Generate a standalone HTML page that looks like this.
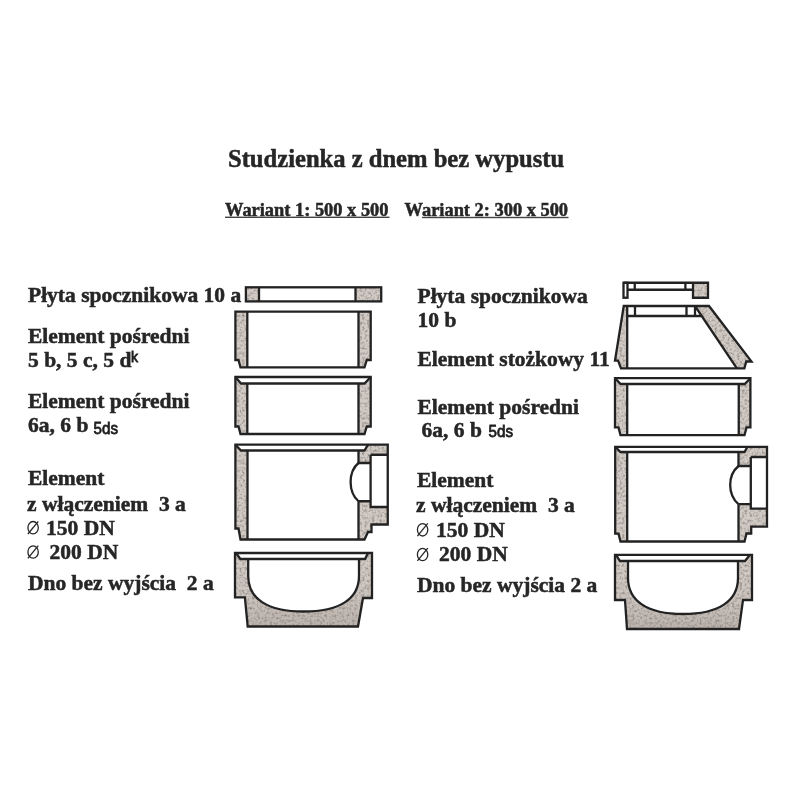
<!DOCTYPE html>
<html><head><meta charset="utf-8">
<style>
html,body{margin:0;padding:0;background:#fff;}
svg{display:block;filter:blur(0.4px);}
.t{font-family:"Liberation Serif",serif;font-weight:bold;fill:#262626;stroke:#262626;stroke-width:0.5;}
.s{font-family:"Liberation Sans",sans-serif;font-weight:normal;fill:#1e1e1e;stroke:#1e1e1e;stroke-width:0.8;}
.r{font-family:"Liberation Serif",serif;fill:#262626;}
.ln{fill:none;stroke:#222;stroke-width:2.3;stroke-linejoin:miter;}
.g{fill:#d2cbc5;stroke:none;filter:url(#grain);}
.g2{fill:url(#gb);stroke:none;filter:url(#grain);}
</style></head>
<body>
<svg width="800" height="800" viewBox="0 0 800 800">
<defs>
<linearGradient id="gb" x1="0" y1="0" x2="0" y2="1"><stop offset="0" stop-color="#d3ccc6"/><stop offset="0.55" stop-color="#cdc5bf"/><stop offset="1" stop-color="#bcb3ad"/></linearGradient>
<filter id="grain" x="0" y="0" width="1" height="1">
<feTurbulence type="fractalNoise" baseFrequency="0.4" numOctaves="2" seed="7" result="n"/>
<feColorMatrix in="n" type="matrix" values="0 0 0 0 0.25  0 0 0 0 0.22  0 0 0 0 0.2  0 0 0 -2.2 1.25" result="d"/>
<feComposite in="d" in2="SourceGraphic" operator="in" result="d2"/>
<feMerge><feMergeNode in="SourceGraphic"/><feMergeNode in="d2"/></feMerge>
</filter>
</defs>
<rect width="800" height="800" fill="#fff"/>
<!-- Titles -->
<text class="t" x="228" y="166.9" font-size="24.6">Studzienka z dnem bez wypustu</text>
<text class="t" x="225" y="216" font-size="18.4">Wariant 1: 500 x 500</text>
<text class="t" x="404.6" y="216.2" font-size="18.4">Wariant 2: 300 x 500</text>
<rect x="225" y="216.6" width="164.5" height="1.4" fill="#444"/>
<rect x="422" y="216.8" width="146.5" height="1.4" fill="#444"/>

<!-- Left labels -->
<g font-size="21.5">
<text class="t" x="28" y="302.3">Płyta spocznikowa 10 a</text>
<text class="t" x="28" y="342.6">Element pośredni</text>
<text class="t" x="28" y="366.5">5 b, 5 c, 5 d</text><text class="s" x="131" y="362.2" font-size="14">k</text>
<text class="t" x="28" y="408">Element pośredni</text>
<text class="t" x="28" y="431.5">6a, 6 b</text><text class="s" x="93.5" y="433.9" font-size="17" textLength="24.5" lengthAdjust="spacingAndGlyphs">5ds</text>
<text class="t" x="28" y="484.8">Element</text>
<text class="t" x="27" y="510.9" style="white-space:pre">z włączeniem  3 a</text>
<text class="t" x="46" y="534.5">150 DN</text>
<text class="t" x="49.5" y="558.6">200 DN</text>
<text class="t" x="28" y="590.2" style="white-space:pre">Dno bez wyjścia  2 a</text>
</g>
<!-- Right labels -->
<g font-size="21.5">
<text class="t" x="417.5" y="303">Płyta spocznikowa</text>
<text class="t" x="417.5" y="327.2">10 b</text>
<text class="t" x="417.5" y="366">Element stożkowy 11</text>
<text class="t" x="417.5" y="413.9">Element pośredni</text>
<text class="t" x="421.5" y="437">6a, 6 b</text><text class="s" x="488.6" y="436.8" font-size="17" textLength="24.5" lengthAdjust="spacingAndGlyphs">5ds</text>
<text class="t" x="417" y="487.2">Element</text>
<text class="t" x="416" y="512.3" style="white-space:pre">z włączeniem  3 a</text>
<text class="t" x="436" y="536.5">150 DN</text>
<text class="t" x="439" y="561.2">200 DN</text>
<text class="t" x="417" y="592" style="white-space:pre">Dno bez wyjścia 2 a</text>
</g>


<g fill="none" stroke="#262626" stroke-width="1.3">
<ellipse cx="33.1" cy="527.7" rx="5.2" ry="6.2"/><path d="M27.9 534L38.25 521.3"/>
<ellipse cx="33.1" cy="552" rx="5.2" ry="6.2"/><path d="M27.9 558.3L38.25 545.6"/>
<ellipse cx="422.6" cy="529.8" rx="5.2" ry="6.2"/><path d="M417.4 536.1L427.8 523.4"/>
<ellipse cx="422.6" cy="554.5" rx="5.2" ry="6.2"/><path d="M417.4 560.8L427.8 548.1"/>
</g>
<!-- ===== LEFT COLUMN DRAWINGS ===== -->
<!-- Plate 10a -->
<rect class="g" x="245.9" y="287.3" width="13.1" height="14.1"/>
<rect class="g" x="355.5" y="287.3" width="25.7" height="14.1"/>
<rect class="ln" x="245.9" y="287.3" width="135.3" height="14.1"/>
<path class="ln" d="M259 287.3V301.4M355.5 287.3V301.4"/>

<!-- Element 5b -->
<path class="g" d="M235.4 311.7H247.3V367.3H240.5L238.5 360H235.4Z"/>
<path class="g" d="M358.5 311.7H370.7V360H366.75L364.5 367.3H358.5Z"/>
<path class="ln" d="M235.4 311.7H370.7V360H366.75L364.5 367.3H240.5L238.5 360H235.4Z"/>
<path class="ln" d="M247.3 311.7V367.3M358.5 311.7V367.3"/>

<!-- Element 6a -->
<path class="g" d="M235.4 377L241 383.5H247.3V434H240.5L238.5 426.5H235.4Z"/>
<path class="g" d="M370.7 377L364.5 383.5H358.5V434H364.5L366.75 426.5H370.7Z"/>
<path class="ln" d="M235.4 377H370.7V426.5H366.75L364.5 434H240.5L238.5 426.5H235.4Z"/>
<path class="ln" d="M235.4 377L241 383.5H364.5L370.7 377M247.3 383.5V434M358.5 383.5V434"/>

<!-- Element 3a -->
<path class="g" d="M235.4 444.7L241 450.5H247.5V539.5H240.5L238.5 528.5H235.4Z"/>
<path class="g" d="M368 444.7H387.75V454.75H370.6V463H358.5V450.5H364.5Z"/>
<path class="g" d="M358.5 501.25H370.6V507H387.75V524.5H371.5V532H368L364.5 539.5H358.5Z"/>
<path class="ln" d="M235.4 444.7H387.75V524.5H371.5V532H368L364.5 539.5H240.5L238.5 528.5H235.4Z"/>
<path class="ln" d="M235.4 444.7L241 450.5H364.5L368 444.7M247.5 450.5V539.5M358.5 450.5V463H370.6M358.5 501.25H370.6M358.5 501.25V539.5"/>
<path class="ln" d="M370.6 454.75H387.75M370.6 454.75V507H387.75"/>
<path class="ln" d="M358.5 463C352.5 468 350.6 475 350.6 482C350.6 489 352.5 496 358.5 501.25"/>

<!-- Element 2a -->
<path class="g2" d="M235 553L240.4 559H248.2V576C248.2 599 267.6 611.5 303.6 611.5C339.6 611.5 359 599 359 576V559H365L368 553H372V598H363L358 626.5H247.7L244.9 597.3H235Z"/>
<path class="ln" d="M235 553H372V598H363L358 626.5H247.7L244.9 597.3H235Z"/>
<path class="ln" d="M236 553L240.4 559H365L368 553"/>
<path class="ln" d="M248.2 559V576C248.2 599 267.6 611.5 303.6 611.5C339.6 611.5 359 599 359 576V559"/>

<!-- ===== RIGHT COLUMN DRAWINGS ===== -->
<!-- Plate 10b -->
<rect class="g" x="693" y="282.75" width="15" height="15"/>
<path class="ln" d="M623.5 282.75H708V297.75H693V282.75M693 289.75H627.5M634.75 282.75V289.75M685.4 282.75V289.75"/>
<rect class="ln" x="623.5" y="282.75" width="4" height="15"/>

<!-- Cone 11 -->
<path class="g" d="M623.75 306H627.2V368.4H621L618.1 360.6H615Z"/>
<path class="g" d="M695 306H709L751.5 361.5H746.25L744.4 368.4H736.9Z"/>
<path class="ln" d="M623.75 306H709L751.5 361.5H746.25L744.4 368.4H621L618.1 360.6H615Z"/>
<path class="ln" d="M627.2 306V368.4M627.2 316H701.7M635 306V316M686.5 306V316M695 306V316M695 306L736.9 368.4"/>

<!-- Element 6a right -->
<path class="g" d="M615 378.2L620.6 384H627.2V435.2H620.5L618.5 427.4H615Z"/>
<path class="g" d="M750.4 378.2L744.75 384H738.75V435.2H744.5L746.5 427.4H750.4Z"/>
<path class="ln" d="M615 378.2H750.4V427.4H746.5L744.5 435.2H620.5L618.5 427.4H615Z"/>
<path class="ln" d="M615 378.2L620.6 384H744.75L750.4 378.2M627.2 384V435.2M738.75 384V435.2"/>

<!-- Element 3a right -->
<path class="g" d="M615.2 446.8L620.5 452H627.2V541.5H620.5L618.5 533.7H615.2Z"/>
<path class="g" d="M747.5 446.8H767V457H750.8V466H738.5V452H744.5Z"/>
<path class="g" d="M738.5 504.2H750.8V508.7H767V526.7H751.2V533.5H746.5L744.5 541.5H738.5Z"/>
<path class="ln" d="M615.2 446.8H767V526.7H751.2V533.5H746.5L744.5 541.5H620.5L618.5 533.7H615.2Z"/>
<path class="ln" d="M615.2 446.8L620.5 452H744.5L747.5 446.8M627.2 452V541.5M738.5 452V466H750.8M738.5 504.2H750.8M738.5 504.2V541.5"/>
<path class="ln" d="M750.8 457H767M750.8 457V508.7H767"/>
<path class="ln" d="M738.5 466C732.5 471 730.2 478 730.2 485C730.2 492 732.5 499 738.5 504.2"/>

<!-- Element 2a right -->
<path class="g2" d="M615 554.8L620 561H628V578C628 601 647.3 614 683 614C718.7 614 738 601 738 578V561H745L750 554.8H752V600H743L739 629H627L625 600H615Z"/>
<path class="ln" d="M615 554.8H752V600H743L739 629H627L625 600H615Z"/>
<path class="ln" d="M616 554.8L620 561H745L750 554.8"/>
<path class="ln" d="M628 561V578C628 601 647.3 614 683 614C718.7 614 738 601 738 578V561"/>
</svg>
</body></html>
